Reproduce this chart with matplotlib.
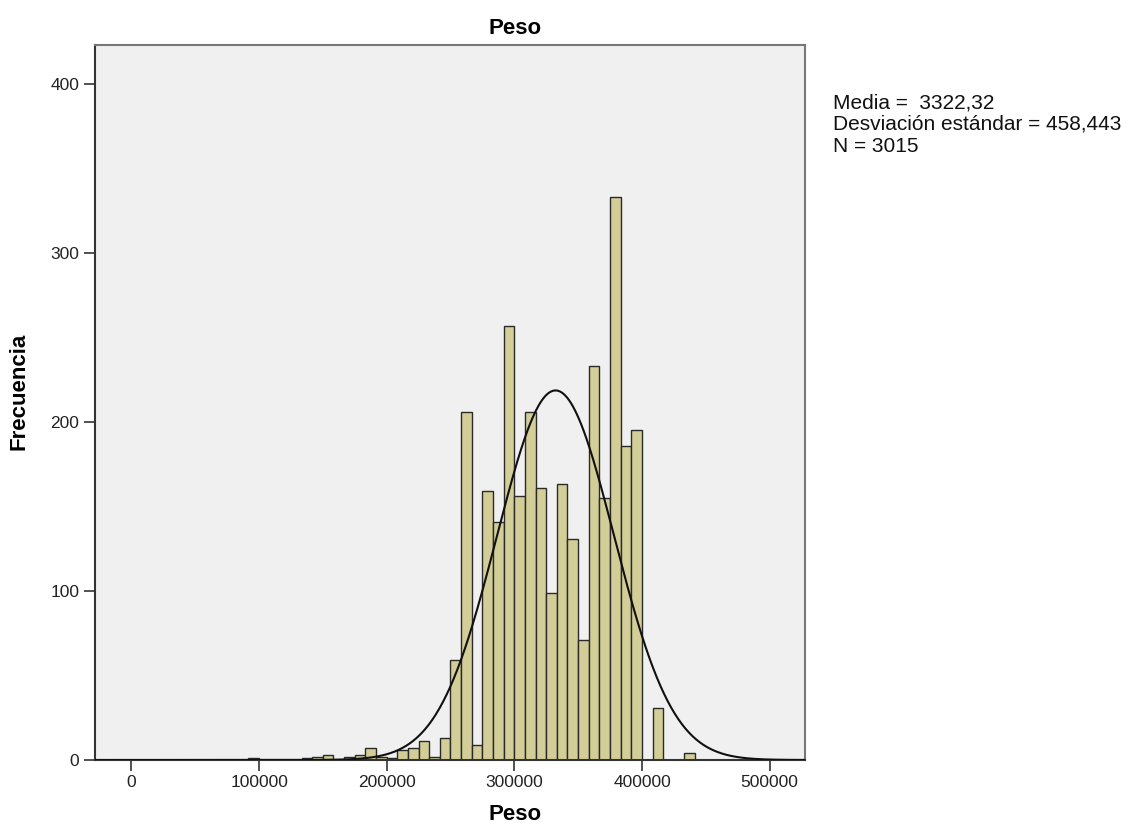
import numpy as np
import matplotlib
matplotlib.use("Agg")
import matplotlib.pyplot as plt

# histogram of Peso
bin_width = 25000 / 3
first_edge = 241600 - 18 * bin_width
counts = [1, 0, 0, 0, 0,          # ~92k..133k
          1, 2, 3, 0, 2, 3, 7, 2, 1, 6, 7, 11, 2,
          13, 59, 206, 9, 159, 141, 257, 156, 206, 161, 99, 163, 131, 71,
          233, 155, 333, 186, 195, 0, 31, 0, 0, 4]

mean_val = 332232
sd_val = 45844.3
n_total = 3015

stats_lines = ["Media =  3322,32", "Desviación estándar = 458,443", "N = 3015"]
x_ticks = [0, 100000, 200000, 300000, 400000, 500000]
y_ticks = [0, 100, 200, 300, 400]

plt.rcParams['font.family'] = ['Liberation Sans', 'DejaVu Sans']

W, H = 1131, 834
fig = plt.figure(figsize=(W / 100, H / 100), dpi=100)
ax = fig.add_axes([94.5 / W, 1 - 760 / H, (805 - 94.5) / W, (760 - 45) / H])
ax.set_facecolor("#F0F0F0")

edges = first_edge + bin_width * np.arange(len(counts))
ax.bar(edges, counts, width=bin_width, align="edge",
       color="#D3CE98", edgecolor="#2a2a2a", linewidth=1.0, zorder=2)

# normal curve scaled to counts
xs = np.linspace(-30000, 530000, 800)
ys = n_total * bin_width / (sd_val * np.sqrt(2 * np.pi)) * np.exp(-0.5 * ((xs - mean_val) / sd_val) ** 2)
ax.plot(xs, ys, color="#111111", linewidth=1.5, zorder=3)

ax.set_xlim(-28980, 527690)
ax.set_ylim(0, 423)
ax.set_xticks(x_ticks)
ax.set_yticks(y_ticks)
ax.set_xticklabels([str(v) for v in x_ticks])
ax.tick_params(axis="both", direction="out", length=8, width=1.2,
               color="#333333", labelsize=12.5, labelcolor="#222222", pad=3)

for side in ["left", "bottom"]:
    ax.spines[side].set_color("#333333")
    ax.spines[side].set_linewidth(1.5)
for side in ["top", "right"]:
    ax.spines[side].set_color("#777777")
    ax.spines[side].set_linewidth(1.5)

# titles placed like SPSS does (centred near x = 300000)
fig.text(515 / W, 1 - 28 / H, "Peso", fontsize=16, fontweight="bold", ha="center", va="center")
fig.text(515 / W, 1 - 815 / H, "Peso", fontsize=16, fontweight="bold", ha="center", va="center")
fig.text(19 / W, 1 - 391 / H, "Frecuencia", fontsize=16, fontweight="bold",
         ha="center", va="center", rotation=90)

for i, line in enumerate(stats_lines):
    fig.text(833 / W, 1 - (108.3 + 21.7 * i) / H, line, fontsize=15,
             va="baseline", ha="left", color="#111111")

fig.savefig("out.png", dpi=100)
